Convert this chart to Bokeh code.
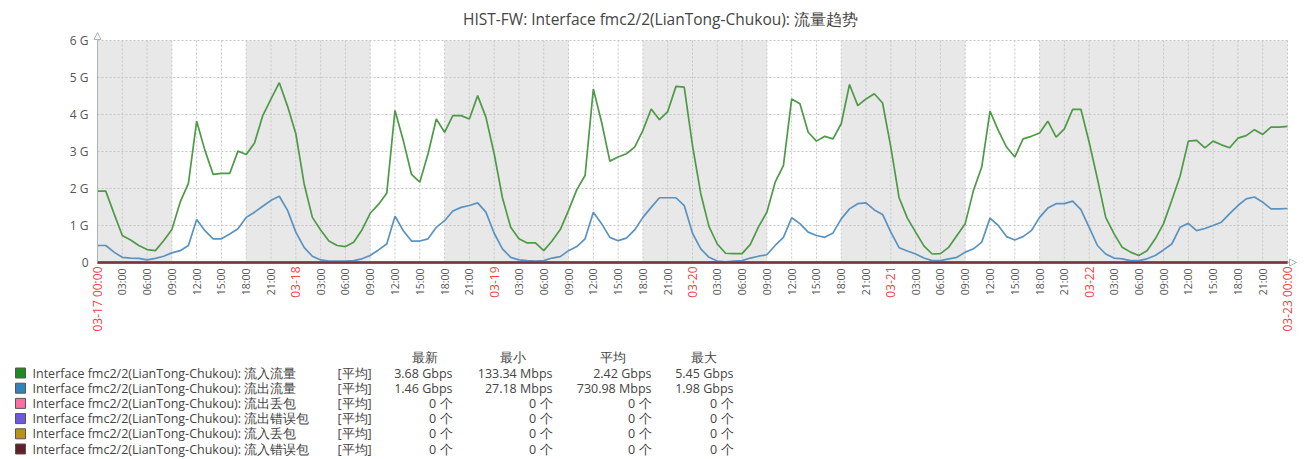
import numpy as np
from bokeh.plotting import figure
from bokeh.models import Range1d, FixedTicker, ColumnDataSource, LabelSet, Label, Arrow, NormalHead
from bokeh.embed import file_html
from bokeh.resources import INLINE
from bokeh.core.properties import value

# ---------------- data ----------------
title_text = "HIST-FW: Interface fmc2/2(LianTong-Chukou): 流量趋势"

hours = list(range(145))  # hours since 03-17 00:00

inbound_g = [
    1.93, 1.93, 1.32, 0.73, 0.61, 0.46, 0.35, 0.32, 0.59, 0.89, 1.63, 2.14,
    3.82, 3.03, 2.38, 2.41, 2.41, 3.01, 2.92, 3.23, 3.97, 4.42, 4.86, 4.22,
    3.48, 2.13, 1.22, 0.88, 0.58, 0.46, 0.43, 0.55, 0.88, 1.33, 1.57, 1.87,
    4.11, 3.30, 2.38, 2.17, 2.94, 3.88, 3.52, 3.97, 3.97, 3.88, 4.51, 3.93,
    2.94, 1.75, 0.95, 0.64, 0.53, 0.53, 0.32, 0.58, 0.89, 1.41, 1.97, 2.35,
    4.69, 3.79, 2.74, 2.85, 2.94, 3.12, 3.57, 4.15, 3.86, 4.08, 4.76, 4.74,
    3.16, 1.86, 0.97, 0.50, 0.25, 0.24, 0.24, 0.49, 0.97, 1.36, 2.17, 2.62,
    4.42, 4.29, 3.52, 3.28, 3.41, 3.34, 3.75, 4.81, 4.24, 4.42, 4.56, 4.31,
    3.12, 1.75, 1.20, 0.82, 0.45, 0.23, 0.24, 0.41, 0.73, 1.05, 1.95, 2.58,
    4.09, 3.57, 3.12, 2.85, 3.34, 3.41, 3.50, 3.82, 3.39, 3.61, 4.14, 4.14,
    3.25, 2.26, 1.22, 0.78, 0.41, 0.28, 0.19, 0.32, 0.64, 1.05, 1.68, 2.33,
    3.28, 3.30, 3.10, 3.28, 3.18, 3.10, 3.36, 3.43, 3.59, 3.46, 3.66, 3.66,
    3.68,
]

outbound_g = [
    0.46, 0.46, 0.28, 0.14, 0.12, 0.11, 0.07, 0.11, 0.17, 0.26, 0.32, 0.46,
    1.16, 0.86, 0.64, 0.64, 0.77, 0.91, 1.22, 1.36, 1.52, 1.68, 1.79, 1.41,
    0.82, 0.41, 0.17, 0.07, 0.04, 0.04, 0.04, 0.05, 0.10, 0.19, 0.34, 0.50,
    1.25, 0.86, 0.58, 0.58, 0.64, 0.95, 1.13, 1.39, 1.49, 1.54, 1.61, 1.36,
    0.79, 0.37, 0.14, 0.07, 0.05, 0.04, 0.05, 0.12, 0.16, 0.32, 0.43, 0.64,
    1.36, 1.05, 0.68, 0.59, 0.66, 0.88, 1.22, 1.49, 1.75, 1.75, 1.75, 1.54,
    0.79, 0.37, 0.14, 0.04, 0.02, 0.04, 0.05, 0.12, 0.17, 0.21, 0.46, 0.68,
    1.21, 1.05, 0.82, 0.73, 0.68, 0.80, 1.18, 1.45, 1.59, 1.61, 1.42, 1.30,
    0.82, 0.40, 0.31, 0.23, 0.12, 0.05, 0.05, 0.10, 0.14, 0.28, 0.37, 0.55,
    1.20, 1.00, 0.70, 0.61, 0.70, 0.86, 1.22, 1.47, 1.59, 1.59, 1.66, 1.43,
    0.95, 0.46, 0.23, 0.12, 0.10, 0.05, 0.05, 0.10, 0.19, 0.34, 0.50, 0.95,
    1.06, 0.86, 0.92, 1.00, 1.09, 1.32, 1.54, 1.72, 1.77, 1.63, 1.45, 1.45,
    1.46,
]

# packet counters: all zero over the whole period
out_drop = [0] * len(hours)
out_err = [0] * len(hours)
in_drop = [0] * len(hours)
in_err = [0] * len(hours)

# non-working-time shaded periods (hours since 03-17 00:00)
off_start = [0, 18, 42, 66, 90, 114]
off_end = [9, 33, 57, 81, 105, 144]

# axis ticks / labels
y_ticks = [0, 1, 2, 3, 4, 5, 6]
y_labels = ["0", "1 G", "2 G", "3 G", "4 G", "5 G", "6 G"]
x_ticks = list(range(0, 145, 3))
hour_labels = ["03:00", "06:00", "09:00", "12:00", "15:00", "18:00", "21:00"]
date_hours = [0, 24, 48, 72, 96, 120, 144]
date_labels = ["03-17 00:00", "03-18", "03-19", "03-20", "03-21", "03-22", "03-23 00:00"]

# legend table
series_names = [
    "Interface fmc2/2(LianTong-Chukou): 流入流量",
    "Interface fmc2/2(LianTong-Chukou): 流出流量",
    "Interface fmc2/2(LianTong-Chukou): 流出丢包",
    "Interface fmc2/2(LianTong-Chukou): 流出错误包",
    "Interface fmc2/2(LianTong-Chukou): 流入丢包",
    "Interface fmc2/2(LianTong-Chukou): 流入错误包",
]
series_func = ["[平均]"] * 6
col_headers = ["最新", "最小", "平均", "最大"]
col_latest = ["3.68 Gbps", "1.46 Gbps", "0 个", "0 个", "0 个", "0 个"]
col_min = ["133.34 Mbps", "27.18 Mbps", "0 个", "0 个", "0 个", "0 个"]
col_avg = ["2.42 Gbps", "730.98 Mbps", "0 个", "0 个", "0 个", "0 个"]
col_max = ["5.45 Gbps", "1.98 Gbps", "0 个", "0 个", "0 个", "0 个"]

swatch_colors = ["#1F8A1F", "#3383B8", "#FC6EA3", "#6C59DC", "#B8921C", "#611F27"]
line_colors = ["#4E9A47", "#5A93C0", "#FC6EA3", "#6C59DC", "#AC8C14", "#7A3440"]

FONT = "Open Sans"
TXT = "#444444"

# ---------------- geometry (canvas pixels) ----------------
W, H = 1300, 457
PX0, PX1 = 97, 1287      # x of 03-17 00:00 and 03-23 00:00
PY0, PY6 = 262, 40       # y of 0 and 6 G
KX = (PX1 - PX0) / 144.0
KY = (PY0 - PY6) / 6.0


def hx(px):
    return (px - PX0) / KX


def gy(py):
    return (PY0 - py) / KY


p = figure(width=W, height=H, x_range=Range1d(hx(0), hx(W)), y_range=Range1d(gy(H), gy(0)),
           output_backend="svg", toolbar_location=None, min_border=0)
p.outline_line_color = None
p.background_fill_color = "white"
p.border_fill_color = "white"
p.xgrid.visible = False
p.ygrid.visible = False

# shading + grid
p.quad(left=off_start, right=off_end, bottom=0, top=6, fill_color="#e8e8e8",
       line_color=None, level="image")
p.segment(x0=x_ticks, y0=[0] * len(x_ticks), x1=x_ticks, y1=[6] * len(x_ticks),
          line_color="#c6c6c6", line_dash="2 2", line_width=1, level="underlay")
p.segment(x0=[0] * len(y_ticks), y0=y_ticks, x1=[144] * len(y_ticks), y1=y_ticks,
          line_color="#c6c6c6", line_dash="2 2", line_width=1, level="underlay")

series = [inbound_g, outbound_g, out_drop, out_err, in_drop, in_err]
for k, (vals, c) in enumerate(zip(series, line_colors)):
    p.line(hours, vals, line_color=c, line_width=1.7 if k < 2 else 2)

# y axis
p.yaxis.fixed_location = 0
p.yaxis.bounds = (0, 6)
p.yaxis.ticker = FixedTicker(ticks=y_ticks)
p.yaxis.major_label_overrides = {t: l for t, l in zip(y_ticks, y_labels)}
p.yaxis.major_tick_line_color = None
p.yaxis.major_tick_out = 0
p.yaxis.major_tick_in = 0
p.yaxis.minor_tick_line_color = None
p.yaxis.axis_line_color = "#a9b3bd"
p.yaxis.major_label_text_font = FONT
p.yaxis.major_label_text_font_size = "12px"
p.yaxis.major_label_text_color = "#555555"
p.yaxis.major_label_standoff = 9

# x axis: gray hour labels; red date labels drawn separately
overrides = {}
for d in range(6):
    overrides[d * 24] = ""
    for i, lab in enumerate(hour_labels):
        overrides[d * 24 + (i + 1) * 3] = lab
overrides[144] = ""
p.xaxis.fixed_location = 0
p.xaxis.bounds = (0, 144)
p.xaxis.ticker = FixedTicker(ticks=x_ticks)
p.xaxis.major_label_overrides = overrides
p.xaxis.major_label_orientation = np.pi / 2
p.xaxis.major_tick_line_color = None
p.xaxis.major_tick_out = 0
p.xaxis.major_tick_in = 0
p.xaxis.minor_tick_line_color = None
p.xaxis.axis_line_color = "#7A3440"
p.xaxis.axis_line_width = 1.5
p.xaxis.major_label_text_font = FONT
p.xaxis.major_label_text_font_size = "10.5px"
p.xaxis.major_label_text_color = "#555555"
p.xaxis.major_label_standoff = 6

date_src = ColumnDataSource(dict(x=date_hours, y=[gy(PY0 + 4)] * len(date_hours), t=date_labels))
p.add_layout(LabelSet(x="x", y="y", text="t", source=date_src, angle=np.pi / 2,
                      text_align="right", text_baseline="middle",
                      text_color="#EE4444", text_font=value(FONT), text_font_size="12px"))

p.add_layout(Arrow(x_start=0, y_start=6, x_end=0, y_end=gy(32), line_color="#a9b3bd",
                   end=NormalHead(size=7, fill_color="white", line_color="#a9b3bd", line_width=1)))
p.add_layout(Arrow(x_start=144, y_start=0, x_end=hx(1296), y_end=0, line_color="#a9b3bd",
                   end=NormalHead(size=7, fill_color="white", line_color="#a9b3bd", line_width=1)))

p.add_layout(Label(x=hx(660), y=gy(18), text=title_text, text_align="center", text_baseline="middle",
                   text_font=FONT, text_font_size="15.5px", text_color=TXT))

# ---------------- legend table ----------------
tf = value(FONT)
fs = "12.5px"
row_py = [372.5 + 15.2 * i for i in range(6)]
row_y = [gy(v) for v in row_py]
p.scatter(x=[hx(20)] * 6, y=row_y, marker="square", size=10, fill_color=swatch_colors,
          line_color="#555555", line_width=1)
p.text(x=[hx(32)] * 6, y=row_y, text=series_names, text_baseline="middle", text_font=tf,
       text_font_size=fs, text_color=TXT)
p.text(x=[hx(337)] * 6, y=row_y, text=series_func, text_baseline="middle", text_font=tf,
       text_font_size=fs, text_color=TXT)
p.text(x=[hx(v) for v in (424, 512, 612, 703)], y=[gy(356.5)] * 4, text=col_headers,
       text_align="center", text_baseline="middle", text_font=tf, text_font_size=fs, text_color=TXT)
for colpx, colv in zip((452, 552, 651, 733), (col_latest, col_min, col_avg, col_max)):
    p.text(x=[hx(colpx)] * 6, y=row_y, text=colv, text_align="right", text_baseline="middle",
           text_font=tf, text_font_size=fs, text_color=TXT)

open("out.html", "w").write(file_html(p, INLINE))
